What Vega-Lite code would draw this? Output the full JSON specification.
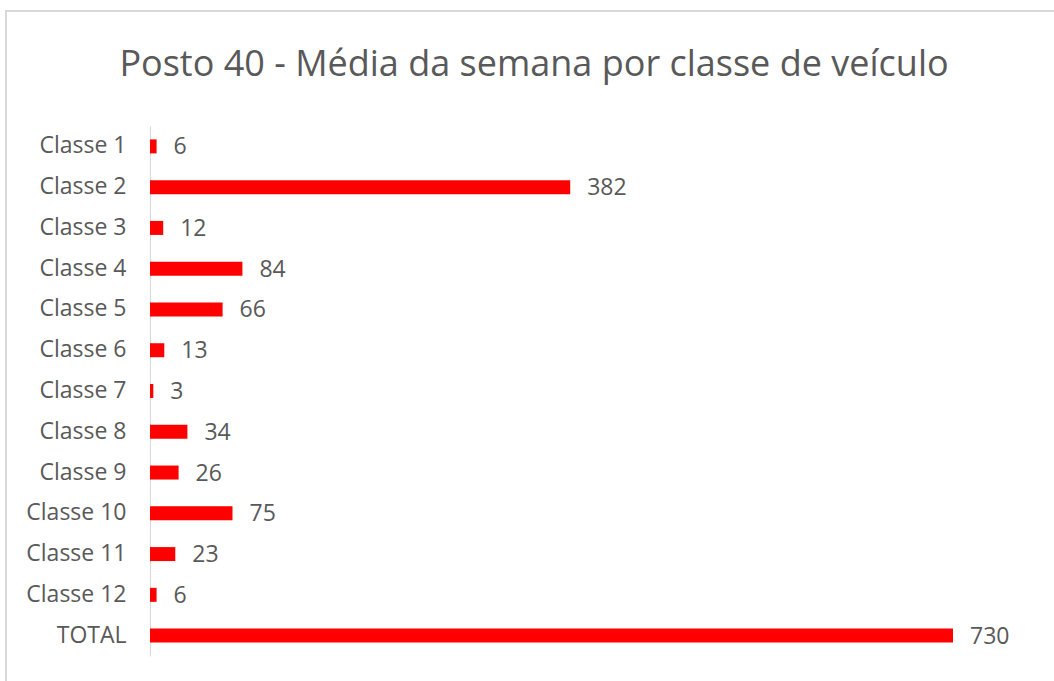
{
  "$schema": "https://vega.github.io/schema/vega-lite/v6.json",
  "autosize": "none",
  "width": 1060,
  "height": 680,
  "padding": {"left": 6, "top": 11, "right": 0, "bottom": 0},
  "background": "white",
  "config": {
    "view": {"stroke": "#d9d9d9", "strokeWidth": 2},
    "font": "Open Sans"
  },
  "title": {
    "text": "Posto 40 - Média da semana por classe de veículo",
    "font": "Open Sans",
    "fontSize": 36,
    "fontWeight": "normal",
    "color": "#595959",
    "anchor": "middle",
    "baseline": "alphabetic",
    "offset": -101,
    "dx": -2
  },
  "data": {
    "values": [
      {"classe": "Classe 1", "valor": 6},
      {"classe": "Classe 2", "valor": 382},
      {"classe": "Classe 3", "valor": 12},
      {"classe": "Classe 4", "valor": 84},
      {"classe": "Classe 5", "valor": 66},
      {"classe": "Classe 6", "valor": 13},
      {"classe": "Classe 7", "valor": 3},
      {"classe": "Classe 8", "valor": 34},
      {"classe": "Classe 9", "valor": 26},
      {"classe": "Classe 10", "valor": 75},
      {"classe": "Classe 11", "valor": 23},
      {"classe": "Classe 12", "valor": 6},
      {"classe": "TOTAL", "valor": 730}
    ]
  },
  "encoding": {
    "y": {
      "field": "classe",
      "type": "nominal",
      "sort": null,
      "scale": {"range": [115, 645], "paddingInner": 0, "paddingOuter": 0},
      "axis": {
        "title": null,
        "offset": -144,
        "ticks": false,
        "domainColor": "#d9d9d9",
        "domainWidth": 1,
        "labelFont": "Open Sans",
        "labelFontSize": 23,
        "labelColor": "#595959",
        "labelPadding": 24
      }
    },
    "x": {
      "field": "valor",
      "type": "quantitative",
      "scale": {"domain": [0, 730], "range": [144, 947], "nice": false, "zero": true},
      "axis": null
    }
  },
  "layer": [
    {
      "mark": {"type": "bar", "color": "#ff0000", "size": 14}
    },
    {
      "mark": {
        "type": "text",
        "align": "left",
        "baseline": "middle",
        "dx": 17,
        "dy": 1,
        "font": "Open Sans",
        "fontSize": 23,
        "color": "#595959"
      },
      "encoding": {"text": {"field": "valor", "type": "quantitative"}}
    }
  ]
}
